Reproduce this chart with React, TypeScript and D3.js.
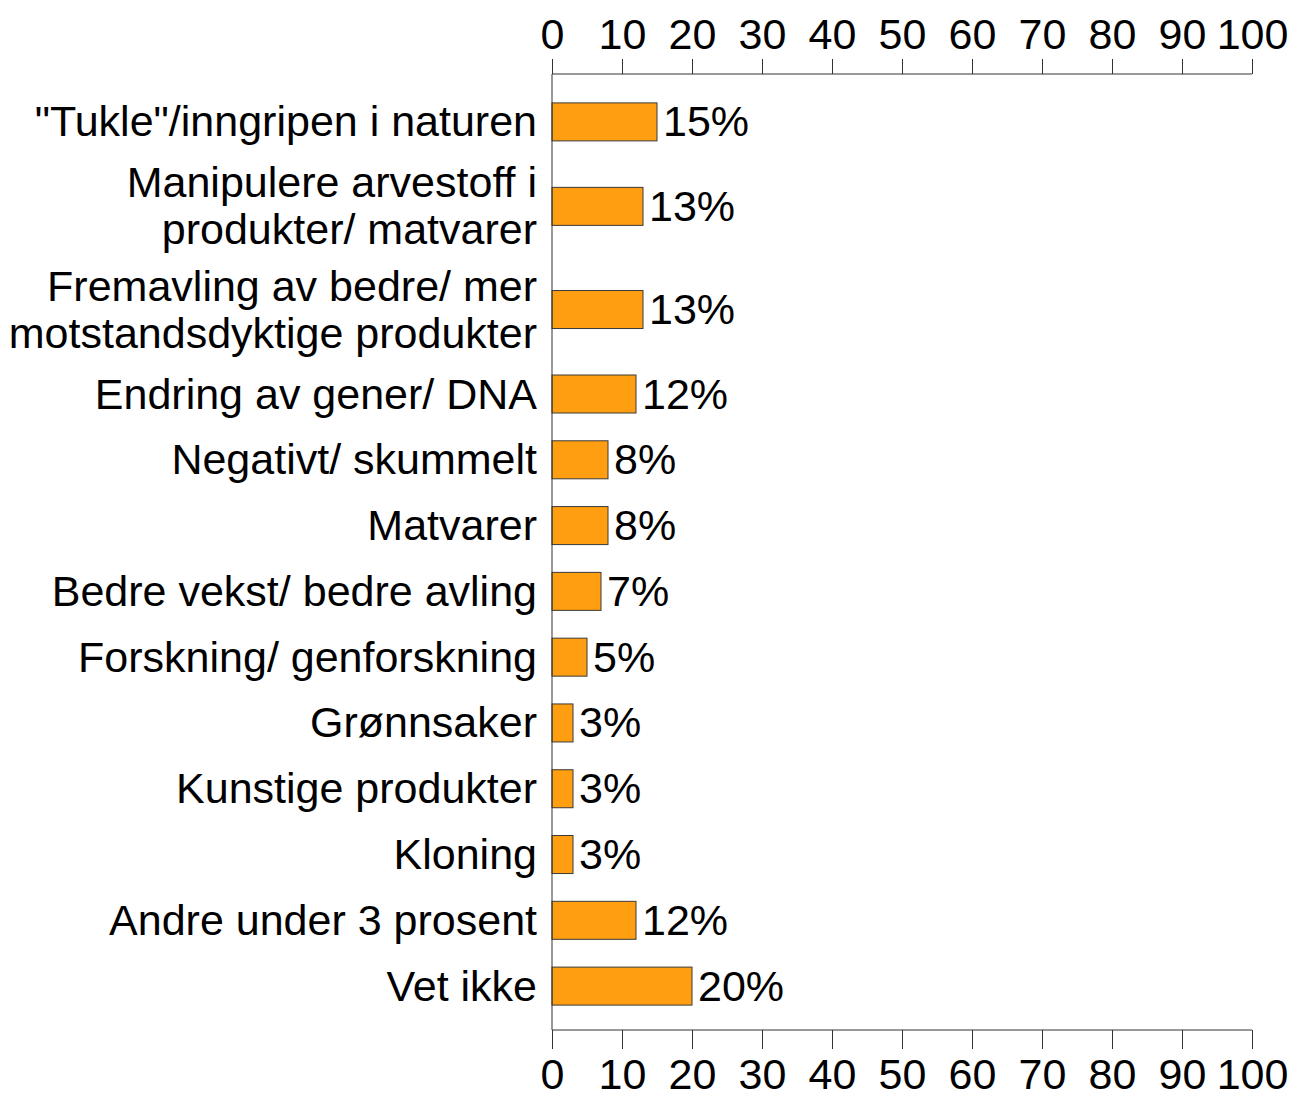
import { useEffect, useRef } from 'react';
import * as d3 from 'd3';

const categories: string[][] = [
  ['"Tukle"/inngripen i naturen'],
  ['Manipulere arvestoff i', 'produkter/ matvarer'],
  ['Fremavling av bedre/ mer', 'motstandsdyktige produkter'],
  ['Endring av gener/ DNA'],
  ['Negativt/ skummelt'],
  ['Matvarer'],
  ['Bedre vekst/ bedre avling'],
  ['Forskning/ genforskning'],
  ['Grønnsaker'],
  ['Kunstige produkter'],
  ['Kloning'],
  ['Andre under 3 prosent'],
  ['Vet ikke'],
];

const values: number[] = [15, 13, 13, 12, 8, 8, 7, 5, 3, 3, 3, 12, 20];

const ticks: number[] = [0, 10, 20, 30, 40, 50, 60, 70, 80, 90, 100];

export default function App() {
  const svgRef = useRef<SVGSVGElement | null>(null);

  const width = 1292;
  const height = 1099;

  useEffect(() => {
    if (!svgRef.current) return;
    const svg = d3.select(svgRef.current);
    svg.selectAll('*').remove();

    const font = '"Liberation Sans", Arial, sans-serif';
    const fontSize = 43;
    const axisTop = 74;
    const axisBottom = 1030;

    const x = d3.scaleLinear().domain([0, 100]).range([552, 1252]);

    // rows with two-line labels are taller
    const weight = (c: string[]) => (c.length > 1 ? 1.568 : 1);
    const starts: number[] = [];
    let acc = 0;
    categories.forEach(c => {
      starts.push(acc);
      acc += weight(c);
    });
    const y = d3.scaleLinear().domain([0, acc]).range([89, 1019]);
    const center = (i: number) => y(starts[i] + weight(categories[i]) / 2);
    const barH = 38;

    const rows = categories.map((c, i) => ({ lines: c, value: values[i], cy: center(i) }));

    // Bars
    svg.append('g')
      .selectAll('rect')
      .data(rows)
      .join('rect')
      .attr('x', x(0))
      .attr('y', d => d.cy - barH / 2)
      .attr('width', d => x(d.value) - x(0))
      .attr('height', barH)
      .attr('fill', '#ff9e10')
      .attr('stroke', '#3a3a3a')
      .attr('stroke-width', 1);

    // Value labels
    svg.append('g')
      .attr('font-family', font)
      .attr('font-size', fontSize)
      .attr('fill', '#000')
      .selectAll('text')
      .data(rows)
      .join('text')
      .attr('x', d => x(d.value) + 6)
      .attr('y', d => d.cy + 14.5)
      .text(d => `${d.value}%`);

    // Category labels
    const lineGap = 47;
    const labels = svg.append('g')
      .attr('font-family', font)
      .attr('font-size', fontSize)
      .attr('fill', '#000')
      .attr('text-anchor', 'end');
    rows.forEach(d => {
      const n = d.lines.length;
      d.lines.forEach((line, k) => {
        labels.append('text')
          .attr('x', 537)
          .attr('y', d.cy + 14.5 + (k - (n - 1) / 2) * lineGap)
          .text(line);
      });
    });

    // Top axis
    svg.append('g')
      .attr('transform', `translate(0,${axisTop})`)
      .call(d3.axisTop(x).tickValues(ticks).tickSize(15).tickPadding(10).tickFormat(d3.format('d')))
      .call(g => g.select('.domain').attr('stroke', '#333').attr('d', `M${x(0)},0H${x(100)}`))
      .call(g => g.selectAll('.tick line').attr('stroke', '#333'))
      .call(g => g.selectAll('.tick text').attr('font-family', font).attr('font-size', fontSize).attr('fill', '#000'));

    // Bottom axis
    svg.append('g')
      .attr('transform', `translate(0,${axisBottom})`)
      .call(d3.axisBottom(x).tickValues(ticks).tickSize(19).tickPadding(9).tickFormat(d3.format('d')))
      .call(g => g.select('.domain').attr('stroke', '#333').attr('d', `M${x(0)},0H${x(100)}`))
      .call(g => g.selectAll('.tick line').attr('stroke', '#333'))
      .call(g => g.selectAll('.tick text').attr('font-family', font).attr('font-size', fontSize).attr('fill', '#000'));

    // Left axis line
    svg.append('line')
      .attr('x1', x(0))
      .attr('x2', x(0))
      .attr('y1', axisTop)
      .attr('y2', axisBottom)
      .attr('stroke', '#333');
  }, []);

  return (
    <div style={{ position: 'absolute', left: 0, top: 0 }}>
      <svg ref={svgRef} width={width} height={height} style={{ display: 'block', background: '#fff' }}></svg>
    </div>
  );
}
